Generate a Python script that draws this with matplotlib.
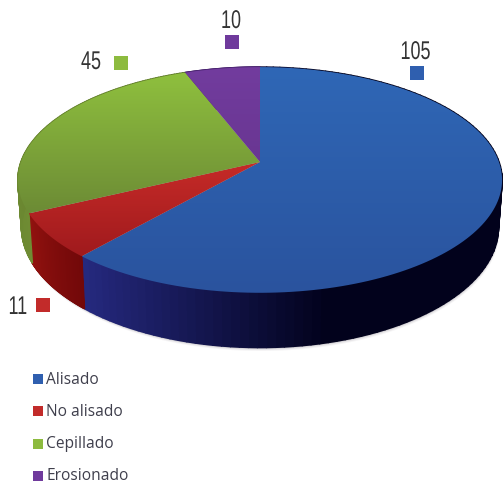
import numpy as np
import matplotlib
matplotlib.use("Agg")
import matplotlib.pyplot as plt
from matplotlib.patches import Polygon
from matplotlib.patheffects import AbstractPathEffect
from matplotlib.transforms import Affine2D

categories = ["Alisado", "No alisado", "Cepillado", "Erosionado"]
values = [105, 11, 45, 10]
value_labels = ["105", "11", "45", "10"]

legend_colors = ["#2F5FAF", "#C22B2A", "#8DBB3F", "#6F3A9C"]
top_colors = [("#2F67B6", "#2A539E"), ("#C62B28", "#A01A1D"),
              ("#8FC03E", "#6C8B35"), ("#723C9E", "#693692")]
side_colors = [("#25297F", "#02021C"), ("#720809", "#92120F"),
               ("#6F8C33", "#5F7A2A"), ("#4A2470", "#4A2470")]

# fake 3d projection of the pie, in image pixels
cx, cy = 260, 162
rx, ry = 239, 110
persp = 0.159
depth = 46
shrink = 0.985

label_pos = [(400.5, 59), (8.5, 314), (81, 69), (221, 28)]
square_pos = [(417, 73), (43, 305), (121, 63), (232, 42)]
legend_y = [379, 411, 444, 476]


class Squeeze(AbstractPathEffect):
    # no condensed font installed, so narrow the glyphs
    def __init__(self, sx):
        super().__init__()
        self.sx = sx

    def draw_path(self, renderer, gc, tpath, affine, rgbFace=None):
        renderer.draw_path(gc, tpath, Affine2D().scale(self.sx, 1) + affine, rgbFace)


def top_rim(ang):
    x, y = np.sin(ang), np.cos(ang)
    w = 1 + persp * y
    return cx + rx * x / w, cy - ry * y / w


def bottom_rim(ang):
    x, y = np.sin(ang), np.cos(ang)
    w = 1 + persp * y
    return cx + shrink * rx * x / w, cy - ry * y / w + depth / w


def mix(c1, c2, t):
    a = np.array(matplotlib.colors.to_rgb(c1))
    b = np.array(matplotlib.colors.to_rgb(c2))
    return tuple(a + (b - a) * np.clip(t, 0, 1))


fig = plt.figure(figsize=(5.03, 4.84), dpi=100)
ax = fig.add_axes([0, 0, 1, 1])

edges = np.cumsum([0] + values) / sum(values) * 2 * np.pi

# soft shadow under the lower rim
ang = np.linspace(0, 2 * np.pi, 400)
for off, al in [(3.5, 0.05), (2.5, 0.08), (1.5, 0.12), (0.7, 0.2)]:
    bx, by = bottom_rim(ang)
    ax.add_patch(Polygon(np.column_stack([bx + off * 0.3, by + off]),
                         fc="#403848", ec="none", alpha=al))

# side wall, strip by strip
for i in range(len(values)):
    angs = np.linspace(edges[i], edges[i + 1], 121)
    for a0, a1 in zip(angs[:-1], angs[1:]):
        tx0, ty0 = top_rim(a0)
        tx1, ty1 = top_rim(a1)
        bx0, by0 = bottom_rim(a0)
        bx1, by1 = bottom_rim(a1)
        if i == 0:
            t = (85 - tx0) / (85 - 330) if tx0 < 330 else 1
        else:
            t = (a0 - edges[i]) / (edges[i + 1] - edges[i])
        col = mix(side_colors[i][0], side_colors[i][1], t)
        ax.add_patch(Polygon([(tx0, ty0), (tx1, ty1), (bx1, by1), (bx0, by0)],
                             fc=col, ec=col, lw=1.2, joinstyle="round"))

# top face, vertical gradient clipped to each slice
grad = np.linspace(0, 1, 256).reshape(-1, 1)
for i in range(len(values)):
    angs = np.linspace(edges[i], edges[i + 1], 150)
    px, py = top_rim(angs)
    poly = Polygon(np.column_stack([np.r_[cx, px], np.r_[cy, py]]),
                   fc="none", ec="none", transform=ax.transData)
    ax.add_patch(poly)
    y0, y1 = np.min(np.r_[cy, py]), np.max(np.r_[cy, py])
    x0, x1 = np.min(np.r_[cx, px]), np.max(np.r_[cx, px])
    cmap = matplotlib.colors.LinearSegmentedColormap.from_list("g", top_colors[i])
    im = ax.imshow(grad, cmap=cmap, extent=(x0, x1, y1, y0), aspect="auto", zorder=2)
    im.set_clip_path(poly)

# value labels with their little squares
for i in range(len(values)):
    ax.text(label_pos[i][0], label_pos[i][1], value_labels[i], ha="left", va="baseline",
            fontsize=18.5, family="Liberation Sans", color="#333333", zorder=3,
            path_effects=[Squeeze(0.7)])
    ax.scatter(*square_pos[i], marker="s", s=100, color=legend_colors[i], linewidths=0, zorder=3)

# legend
for i, name in enumerate(categories):
    ax.scatter(38, legend_y[i], marker="s", s=56, color=legend_colors[i], linewidths=0, zorder=3)
    ax.text(46.5, legend_y[i] + 0.5, name, ha="left", va="center", fontsize=11.2,
            family="Open Sans", color="#3F3F4C", zorder=3)

ax.set_xlim(0, 503)
ax.set_ylim(484, 0)
ax.axis("off")

fig.savefig("out.png", dpi=100)
